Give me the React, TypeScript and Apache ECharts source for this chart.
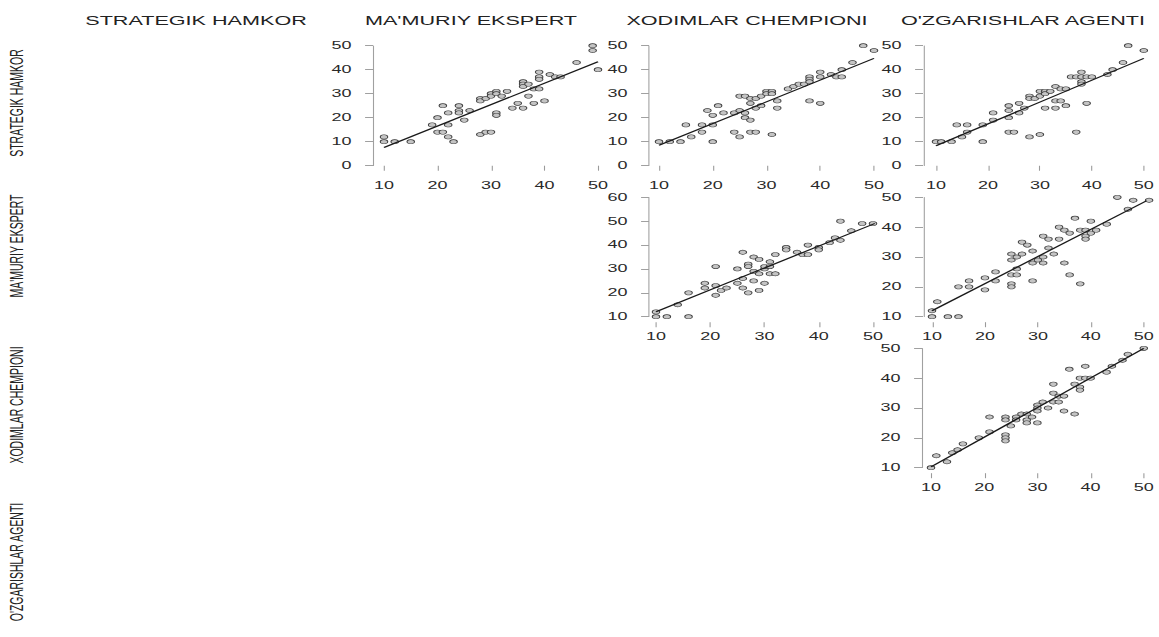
import React, { useEffect, useRef } from "react";
import * as echarts from "echarts";

// ---------- DATA ----------
const variables = ["STRATEGIK HAMKOR", "MA'MURIY EKSPERT", "XODIMLAR CHEMPIONI", "O'ZGARISHLAR AGENTI"];

// row 1 (y = STRATEGIK HAMKOR) vs MA'MURIY EKSPERT
const pointsA = [
  [10, 12], [10, 10], [12, 10], [15, 10], [19, 17], [20, 20], [20, 14], [21, 25], [21, 14], [22, 17],
  [22, 12], [22, 22], [23, 10], [24, 25], [24, 23], [24, 22], [25, 19], [26, 23], [28, 13], [28, 28],
  [28, 27], [29, 28], [29, 14], [30, 14], [30, 30], [30, 29], [31, 31], [31, 30], [31, 22], [31, 21],
  [32, 29], [33, 31], [34, 24], [35, 26], [36, 35], [36, 34], [36, 33], [36, 24], [37, 34], [37, 29],
  [38, 32], [38, 26], [39, 39], [39, 37], [39, 36], [39, 32], [40, 27], [41, 38], [42, 37], [43, 37],
  [46, 43], [49, 50], [49, 48], [50, 40],
];
const fitA = [[10, 7.6], [50, 43.3]];

// row 1 vs XODIMLAR CHEMPIONI
const pointsB = [
  [10, 10], [12, 10], [14, 10], [15, 17], [16, 12], [18, 17], [18, 14], [19, 23], [20, 21], [20, 17],
  [20, 10], [21, 25], [22, 22], [24, 14], [24, 22], [25, 29], [25, 23], [25, 12], [26, 29], [26, 22],
  [26, 20], [27, 26], [27, 28], [27, 19], [27, 14], [28, 14], [28, 28], [28, 24], [29, 29], [29, 25],
  [30, 31], [30, 30], [31, 31], [31, 30], [31, 13], [32, 27], [32, 24], [34, 32], [35, 33], [36, 34],
  [37, 34], [38, 37], [38, 36], [38, 35], [38, 27], [40, 39], [40, 37], [40, 26], [42, 38], [43, 37],
  [44, 40], [44, 37], [46, 43], [48, 50], [50, 48],
];
const fitB = [[10, 8.5], [50, 44.7]];

// row 1 vs O'ZGARISHLAR AGENTI
const pointsC = [
  [10, 10], [11, 10], [13, 10], [14, 17], [15, 12], [16, 17], [16, 14], [19, 17], [19, 10], [21, 22],
  [21, 19], [24, 25], [24, 23], [24, 20], [24, 14], [25, 14], [26, 26], [26, 22], [27, 24], [28, 29],
  [28, 28], [28, 12], [29, 28], [30, 31], [30, 29], [30, 13], [31, 31], [31, 30], [31, 24], [32, 31],
  [33, 33], [33, 27], [33, 24], [34, 32], [34, 27], [35, 32], [35, 25], [36, 37], [37, 37], [37, 14],
  [38, 39], [38, 37], [38, 35], [38, 34], [39, 37], [39, 26], [40, 37], [43, 38], [44, 40], [46, 43],
  [47, 50], [50, 48],
];
const fitC = [[10, 8.3], [50, 44.7]];

// row 2 (y = MA'MURIY EKSPERT) vs XODIMLAR CHEMPIONI
const pointsD = [
  [10, 12], [10, 10], [12, 10], [14, 15], [16, 20], [16, 10], [19, 22], [19, 24], [21, 23], [21, 31],
  [21, 19], [22, 21], [23, 22], [25, 30], [25, 24], [26, 37], [26, 26], [26, 22], [27, 32], [27, 31],
  [27, 20], [28, 35], [28, 29], [28, 25], [29, 34], [29, 28], [29, 21], [30, 30], [30, 24], [30, 31],
  [31, 33], [31, 31], [31, 28], [32, 36], [32, 28], [34, 39], [34, 38], [36, 37], [37, 36], [38, 40],
  [38, 36], [40, 39], [40, 38], [42, 41], [43, 43], [44, 50], [44, 42], [46, 46], [48, 49], [50, 49],
];
const fitD = [[10, 12.1], [50.4, 49.1]];

// row 2 vs O'ZGARISHLAR AGENTI
const pointsE = [
  [10, 12], [10, 10], [11, 15], [13, 10], [15, 10], [15, 20], [17, 22], [17, 20], [20, 23], [20, 19],
  [22, 25], [22, 22], [25, 31], [25, 29], [25, 24], [25, 21], [25, 20], [26, 30], [26, 26], [26, 24],
  [27, 35], [27, 31], [28, 34], [29, 32], [29, 28], [29, 22], [30, 29], [31, 37], [31, 30], [31, 28],
  [32, 36], [32, 33], [33, 31], [34, 40], [34, 36], [35, 39], [35, 28], [36, 38], [36, 24], [37, 43],
  [38, 39], [38, 21], [39, 39], [39, 37], [39, 36], [40, 42], [40, 38], [41, 39], [43, 41], [45, 50],
  [47, 46], [48, 49], [51, 49],
];
const fitE = [[10, 12.0], [50.6, 48.9]];

// row 3 (y = XODIMLAR CHEMPIONI) vs O'ZGARISHLAR AGENTI
const pointsF = [
  [10, 10], [11, 14], [13, 12], [14, 15], [15, 16], [16, 18], [19, 20], [21, 27], [21, 22], [24, 27],
  [24, 26], [24, 21], [24, 20], [24, 19], [25, 24], [26, 27], [26, 26], [27, 28], [28, 28], [28, 26],
  [28, 25], [29, 27], [30, 31], [30, 30], [30, 29], [30, 25], [31, 32], [32, 30], [33, 38], [33, 35],
  [33, 32], [34, 34], [34, 32], [35, 34], [35, 29], [36, 43], [37, 38], [37, 28], [38, 40], [38, 37],
  [38, 36], [39, 44], [39, 40], [40, 40], [43, 42], [44, 44], [46, 46], [47, 48], [50, 50],
];
const fitF = [[10, 10.3], [50, 50]];

// ---------- LAYOUT (final page pixels; the chart is drawn narrow and stretched) ----------
const S = 1.8;
const panels = [
  { pts: pointsA, fit: fitA, x10: 384, x50: 598, yTop: 45.7, yBot: 165.7, yMin: 0, yMax: 50, axisX: 373 },
  { pts: pointsB, fit: fitB, x10: 659, x50: 874, yTop: 45.7, yBot: 165.7, yMin: 0, yMax: 50, axisX: 649 },
  { pts: pointsC, fit: fitC, x10: 936, x50: 1150, yTop: 45.7, yBot: 165.7, yMin: 0, yMax: 50, axisX: 923 },
  { pts: pointsD, fit: fitD, x10: 656, x50: 873, yTop: 197.3, yBot: 316.7, yMin: 10, yMax: 60, axisX: 649 },
  { pts: pointsE, fit: fitE, x10: 932, x50: 1147, yTop: 197.3, yBot: 316.7, yMin: 10, yMax: 50, axisX: 923 },
  { pts: pointsF, fit: fitF, x10: 931, x50: 1146, yTop: 348.3, yBot: 467.7, yMin: 10, yMax: 50, axisX: 922 },
];
const headerX = [196, 471, 747, 1023];
const headerY = 21;
const rowLabelY = [103, 246, 405, 562];
const rowLabelX = 16;

const FONT = "'Liberation Sans', Arial, Helvetica, sans-serif";

export default function App() {
  const ref = useRef<HTMLDivElement>(null);
  useEffect(() => {
    if (!ref.current) return;
    const chart = echarts.init(ref.current, undefined, { renderer: "svg" });
    const grid: any[] = [];
    const xAxis: any[] = [];
    const yAxis: any[] = [];
    const series: any[] = [];
    panels.forEach((p, i) => {
      grid.push({
        left: p.x10 / S,
        top: p.yTop,
        width: (p.x50 - p.x10) / S,
        height: p.yBot - p.yTop,
        containLabel: false,
      });
      xAxis.push({
        type: "value",
        gridIndex: i,
        min: 10,
        max: 50,
        interval: 10,
        offset: 5.5,
        axisLine: { show: false },
        axisTick: { show: true, length: 5, lineStyle: { color: "#9a9a9a", width: 0.6 } },
        axisLabel: { show: true, margin: 9, fontSize: 10, color: "#2a2a2a", fontFamily: FONT },
        splitLine: { show: false },
      });
      yAxis.push({
        type: "value",
        gridIndex: i,
        min: p.yMin,
        max: p.yMax,
        interval: 10,
        offset: (p.x10 - p.axisX) / S,
        axisLine: { show: true, lineStyle: { color: "#a0a0a0", width: 0.6 } },
        axisTick: { show: true, length: 4.4, lineStyle: { color: "#a0a0a0", width: 1 } },
        axisLabel: { show: true, margin: 12, fontSize: 10, color: "#2a2a2a", fontFamily: FONT },
        splitLine: { show: false },
      });
      series.push({
        type: "scatter",
        xAxisIndex: i,
        yAxisIndex: i,
        data: p.pts,
        symbol: "circle",
        symbolSize: 4.2,
        clip: false,
        itemStyle: { color: "#c4c4c4", borderColor: "#3f3f3f", borderWidth: 0.6, opacity: 1 },
        z: 2,
      });
      series.push({
        type: "line",
        xAxisIndex: i,
        yAxisIndex: i,
        data: p.fit,
        symbol: "none",
        clip: false,
        lineStyle: { color: "#1a1a1a", width: 1.1 },
        z: 3,
      });
    });
    const graphic: any[] = [];
    variables.forEach((v, i) => {
      graphic.push({
        type: "text",
        x: headerX[i] / S,
        y: headerY,
        style: {
          text: v,
          fontSize: 12,
          fontFamily: FONT,
          fill: "#222",
          align: "center",
          verticalAlign: "middle",
        },
      });
      graphic.push({
        type: "text",
        x: rowLabelX / S,
        y: rowLabelY[i],
        rotation: Math.PI / 2,
        style: {
          text: v,
          fontSize: 10.5,
          fontFamily: FONT,
          fill: "#222",
          align: "center",
          verticalAlign: "middle",
        },
      });
    });
    chart.setOption({
      animation: false,
      backgroundColor: "#ffffff",
      grid,
      xAxis,
      yAxis,
      series,
      graphic,
    });
    return () => chart.dispose();
  }, []);
  return (
    <div
      ref={ref}
      style={{
        position: "absolute",
        left: 0,
        top: 0,
        width: 1159 / S,
        height: 637,
        transform: `scaleX(${S})`,
        transformOrigin: "0 0",
        background: "#fff",
      }}
    />
  );
}
